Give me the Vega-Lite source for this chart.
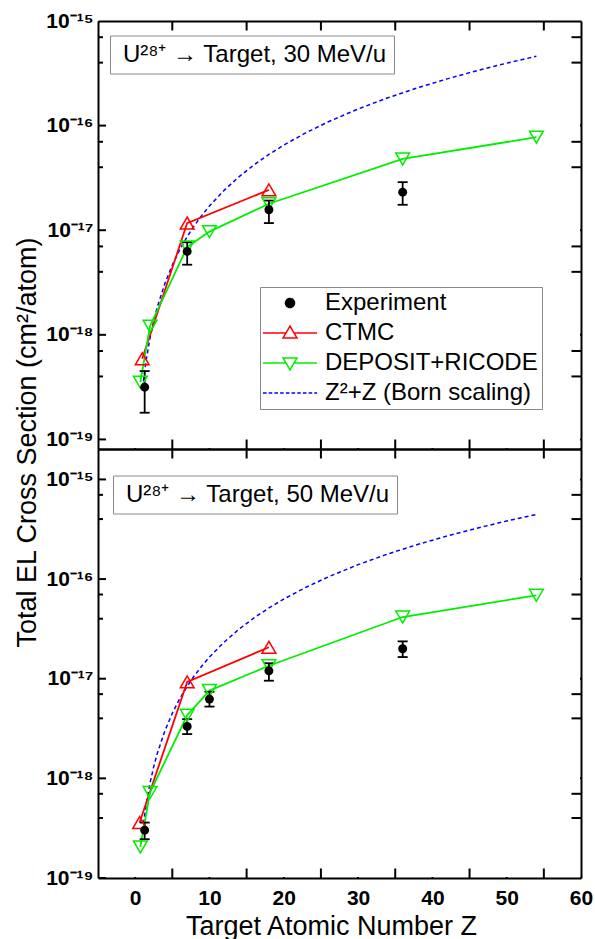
{
  "$schema": "https://vega.github.io/schema/vega-lite/v6.json",
  "background": "white",
  "padding": {"left": 13, "top": 10, "right": 2, "bottom": 0},
  "bounds": "flush",
  "spacing": 0,
  "config": {
    "font": "Liberation Sans",
    "view": {"stroke": null},
    "axis": {"grid": false, "ticks": false, "domainColor": "black", "domainWidth": 2, "labelColor": "black", "titleColor": "black", "labelOverlap": false, "labelBound": false, "labelFlush": false, "titleFontWeight": "normal", "titleLimit": 1000}
  },
  "datasets": {
    "ticks": [
      {"dim": "y", "kind": "major", "v": 1e-19}, {"dim": "y", "kind": "major", "v": 1e-18}, {"dim": "y", "kind": "major", "v": 1e-17}, {"dim": "y", "kind": "major", "v": 1e-16}, {"dim": "y", "kind": "major", "v": 1e-15},
      {"dim": "y", "kind": "minor", "v": 4e-19}, {"dim": "y", "kind": "minor", "v": 7e-19}, {"dim": "y", "kind": "minor", "v": 4e-18}, {"dim": "y", "kind": "minor", "v": 7e-18},
      {"dim": "y", "kind": "minor", "v": 4e-17}, {"dim": "y", "kind": "minor", "v": 7e-17}, {"dim": "y", "kind": "minor", "v": 4e-16}, {"dim": "y", "kind": "minor", "v": 7e-16},
      {"dim": "x", "kind": "major", "v": 0}, {"dim": "x", "kind": "major", "v": 10}, {"dim": "x", "kind": "major", "v": 20}, {"dim": "x", "kind": "major", "v": 30}, {"dim": "x", "kind": "major", "v": 40}, {"dim": "x", "kind": "major", "v": 50}, {"dim": "x", "kind": "major", "v": 60},
      {"dim": "x", "kind": "minor", "v": 5}, {"dim": "x", "kind": "minor", "v": 15}, {"dim": "x", "kind": "minor", "v": 25}, {"dim": "x", "kind": "minor", "v": 35}, {"dim": "x", "kind": "minor", "v": 45}, {"dim": "x", "kind": "minor", "v": 55}
    ],
    "d": [
      {"E": 30, "series": "Experiment", "panel": "U²⁸⁺ → Target, 30 MeV/u", "Z": 1.28, "sigma": 3.16e-19, "lo": 1.8e-19, "hi": 4.5e-19},
      {"E": 30, "series": "Experiment", "panel": "U²⁸⁺ → Target, 30 MeV/u", "Z": 7, "sigma": 6.27e-18, "lo": 4.68e-18, "hi": 7.67e-18},
      {"E": 30, "series": "Experiment", "panel": "U²⁸⁺ → Target, 30 MeV/u", "Z": 18, "sigma": 1.57e-17, "lo": 1.17e-17, "hi": 1.92e-17},
      {"E": 30, "series": "Experiment", "panel": "U²⁸⁺ → Target, 30 MeV/u", "Z": 36, "sigma": 2.31e-17, "lo": 1.75e-17, "hi": 2.88e-17},
      {"E": 30, "series": "CTMC", "Z": 0.95, "sigma": 5.9e-19},
      {"E": 30, "series": "CTMC", "Z": 7, "sigma": 1.17e-17},
      {"E": 30, "series": "CTMC", "Z": 18, "sigma": 2.43e-17},
      {"E": 30, "series": "DEPOSIT+RICODE", "Z": 0.7, "sigma": 3.53e-19},
      {"E": 30, "series": "DEPOSIT+RICODE", "Z": 2, "sigma": 1.21e-18},
      {"E": 30, "series": "DEPOSIT+RICODE", "Z": 7, "sigma": 6.9e-18},
      {"E": 30, "series": "DEPOSIT+RICODE", "Z": 10, "sigma": 9.7e-18},
      {"E": 30, "series": "DEPOSIT+RICODE", "Z": 18, "sigma": 1.79e-17},
      {"E": 30, "series": "DEPOSIT+RICODE", "Z": 36, "sigma": 4.8e-17},
      {"E": 30, "series": "DEPOSIT+RICODE", "Z": 54, "sigma": 7.75e-17},
      {"E": 30, "series": "Z²+Z (Born scaling)", "Z": 1, "sigma": 3.1e-19},
      {"E": 30, "series": "Z²+Z (Born scaling)", "Z": 1.5, "sigma": 5.81e-19},
      {"E": 30, "series": "Z²+Z (Born scaling)", "Z": 2, "sigma": 9.3e-19},
      {"E": 30, "series": "Z²+Z (Born scaling)", "Z": 2.5, "sigma": 1.356e-18},
      {"E": 30, "series": "Z²+Z (Born scaling)", "Z": 3, "sigma": 1.86e-18},
      {"E": 30, "series": "Z²+Z (Born scaling)", "Z": 4, "sigma": 3.1e-18},
      {"E": 30, "series": "Z²+Z (Born scaling)", "Z": 5, "sigma": 4.65e-18},
      {"E": 30, "series": "Z²+Z (Born scaling)", "Z": 6, "sigma": 6.51e-18},
      {"E": 30, "series": "Z²+Z (Born scaling)", "Z": 7, "sigma": 8.68e-18},
      {"E": 30, "series": "Z²+Z (Born scaling)", "Z": 8, "sigma": 1.116e-17},
      {"E": 30, "series": "Z²+Z (Born scaling)", "Z": 9, "sigma": 1.395e-17},
      {"E": 30, "series": "Z²+Z (Born scaling)", "Z": 10, "sigma": 1.705e-17},
      {"E": 30, "series": "Z²+Z (Born scaling)", "Z": 12, "sigma": 2.418e-17},
      {"E": 30, "series": "Z²+Z (Born scaling)", "Z": 14, "sigma": 3.255e-17},
      {"E": 30, "series": "Z²+Z (Born scaling)", "Z": 16, "sigma": 4.216e-17},
      {"E": 30, "series": "Z²+Z (Born scaling)", "Z": 18, "sigma": 5.301e-17},
      {"E": 30, "series": "Z²+Z (Born scaling)", "Z": 20, "sigma": 6.51e-17},
      {"E": 30, "series": "Z²+Z (Born scaling)", "Z": 23, "sigma": 8.556e-17},
      {"E": 30, "series": "Z²+Z (Born scaling)", "Z": 26, "sigma": 1.088e-16},
      {"E": 30, "series": "Z²+Z (Born scaling)", "Z": 30, "sigma": 1.4415e-16},
      {"E": 30, "series": "Z²+Z (Born scaling)", "Z": 34, "sigma": 1.8445e-16},
      {"E": 30, "series": "Z²+Z (Born scaling)", "Z": 38, "sigma": 2.297e-16},
      {"E": 30, "series": "Z²+Z (Born scaling)", "Z": 42, "sigma": 2.799e-16},
      {"E": 30, "series": "Z²+Z (Born scaling)", "Z": 46, "sigma": 3.351e-16},
      {"E": 30, "series": "Z²+Z (Born scaling)", "Z": 50, "sigma": 3.953e-16},
      {"E": 30, "series": "Z²+Z (Born scaling)", "Z": 54, "sigma": 4.604e-16},
      {"E": 50, "series": "Experiment", "panel": "U²⁸⁺ → Target, 50 MeV/u", "Z": 1.28, "sigma": 3.02e-19, "lo": 2.45e-19, "hi": 3.6e-19},
      {"E": 50, "series": "Experiment", "panel": "U²⁸⁺ → Target, 50 MeV/u", "Z": 7, "sigma": 3.32e-18, "lo": 2.78e-18, "hi": 3.93e-18},
      {"E": 50, "series": "Experiment", "panel": "U²⁸⁺ → Target, 50 MeV/u", "Z": 10, "sigma": 6.25e-18, "lo": 5.25e-18, "hi": 7.4e-18},
      {"E": 50, "series": "Experiment", "panel": "U²⁸⁺ → Target, 50 MeV/u", "Z": 18, "sigma": 1.2e-17, "lo": 9.55e-18, "hi": 1.43e-17},
      {"E": 50, "series": "Experiment", "panel": "U²⁸⁺ → Target, 50 MeV/u", "Z": 36, "sigma": 2.0e-17, "lo": 1.65e-17, "hi": 2.37e-17},
      {"E": 50, "series": "CTMC", "Z": 0.6, "sigma": 3.6e-19},
      {"E": 50, "series": "CTMC", "Z": 7, "sigma": 9.3e-18},
      {"E": 50, "series": "CTMC", "Z": 18, "sigma": 2.07e-17},
      {"E": 50, "series": "DEPOSIT+RICODE", "Z": 0.7, "sigma": 2.05e-19},
      {"E": 50, "series": "DEPOSIT+RICODE", "Z": 2, "sigma": 7.2e-19},
      {"E": 50, "series": "DEPOSIT+RICODE", "Z": 7, "sigma": 4.3e-18},
      {"E": 50, "series": "DEPOSIT+RICODE", "Z": 10, "sigma": 7.6e-18},
      {"E": 50, "series": "DEPOSIT+RICODE", "Z": 18, "sigma": 1.35e-17},
      {"E": 50, "series": "DEPOSIT+RICODE", "Z": 36, "sigma": 4.16e-17},
      {"E": 50, "series": "DEPOSIT+RICODE", "Z": 54, "sigma": 6.87e-17},
      {"E": 50, "series": "Z²+Z (Born scaling)", "Z": 1, "sigma": 3.0e-19},
      {"E": 50, "series": "Z²+Z (Born scaling)", "Z": 1.5, "sigma": 5.625e-19},
      {"E": 50, "series": "Z²+Z (Born scaling)", "Z": 2, "sigma": 9.0e-19},
      {"E": 50, "series": "Z²+Z (Born scaling)", "Z": 2.5, "sigma": 1.3125e-18},
      {"E": 50, "series": "Z²+Z (Born scaling)", "Z": 3, "sigma": 1.8e-18},
      {"E": 50, "series": "Z²+Z (Born scaling)", "Z": 4, "sigma": 3.0e-18},
      {"E": 50, "series": "Z²+Z (Born scaling)", "Z": 5, "sigma": 4.5e-18},
      {"E": 50, "series": "Z²+Z (Born scaling)", "Z": 6, "sigma": 6.3e-18},
      {"E": 50, "series": "Z²+Z (Born scaling)", "Z": 7, "sigma": 8.4e-18},
      {"E": 50, "series": "Z²+Z (Born scaling)", "Z": 8, "sigma": 1.08e-17},
      {"E": 50, "series": "Z²+Z (Born scaling)", "Z": 9, "sigma": 1.35e-17},
      {"E": 50, "series": "Z²+Z (Born scaling)", "Z": 10, "sigma": 1.65e-17},
      {"E": 50, "series": "Z²+Z (Born scaling)", "Z": 12, "sigma": 2.34e-17},
      {"E": 50, "series": "Z²+Z (Born scaling)", "Z": 14, "sigma": 3.15e-17},
      {"E": 50, "series": "Z²+Z (Born scaling)", "Z": 16, "sigma": 4.08e-17},
      {"E": 50, "series": "Z²+Z (Born scaling)", "Z": 18, "sigma": 5.13e-17},
      {"E": 50, "series": "Z²+Z (Born scaling)", "Z": 20, "sigma": 6.3e-17},
      {"E": 50, "series": "Z²+Z (Born scaling)", "Z": 23, "sigma": 8.28e-17},
      {"E": 50, "series": "Z²+Z (Born scaling)", "Z": 26, "sigma": 1.053e-16},
      {"E": 50, "series": "Z²+Z (Born scaling)", "Z": 30, "sigma": 1.395e-16},
      {"E": 50, "series": "Z²+Z (Born scaling)", "Z": 34, "sigma": 1.785e-16},
      {"E": 50, "series": "Z²+Z (Born scaling)", "Z": 38, "sigma": 2.223e-16},
      {"E": 50, "series": "Z²+Z (Born scaling)", "Z": 42, "sigma": 2.709e-16},
      {"E": 50, "series": "Z²+Z (Born scaling)", "Z": 46, "sigma": 3.243e-16},
      {"E": 50, "series": "Z²+Z (Born scaling)", "Z": 50, "sigma": 3.825e-16},
      {"E": 50, "series": "Z²+Z (Born scaling)", "Z": 54, "sigma": 4.455e-16}
    ]
  },
  "resolve": {"scale": {"color": "independent", "shape": "independent"}},
  "vconcat": [
    {
      "width": 483,
      "height": 428,
      "layer": [
        {
          "data": {"name": "ticks"},
          "transform": [{"filter": "datum.dim == 'y'"}],
          "mark": {"type": "tick", "orient": "horizontal", "clip": true, "thickness": 2, "color": "black", "opacity": 1},
          "encoding": {
            "y": {"field": "v", "type": "quantitative", "scale": {"type": "log", "domain": [8.1e-20, 1e-15], "nice": false}, "axis": null},
            "x": {"datum": -5, "type": "quantitative", "scale": {"domain": [-5, 60], "nice": false, "zero": false}, "axis": null},
            "size": {"field": "kind", "type": "ordinal", "scale": {"type": "ordinal", "domain": ["major", "minor"], "range": [16, 10]}, "legend": null}
          }
        },
        {
          "data": {"name": "ticks"},
          "transform": [{"filter": "datum.dim == 'y'"}],
          "mark": {"type": "tick", "orient": "horizontal", "clip": true, "thickness": 2, "color": "black", "opacity": 1},
          "encoding": {
            "y": {"field": "v", "type": "quantitative", "scale": {"type": "log", "domain": [8.1e-20, 1e-15], "nice": false}, "axis": null},
            "x": {"datum": 60, "type": "quantitative", "axis": null},
            "size": {"field": "kind", "type": "ordinal", "legend": null}
          }
        },
        {
          "data": {"name": "ticks"},
          "transform": [{"filter": "datum.dim == 'x'"}],
          "mark": {"type": "tick", "orient": "vertical", "clip": true, "thickness": 2, "color": "black", "opacity": 1},
          "encoding": {
            "x": {"field": "v", "type": "quantitative", "axis": null},
            "y": {"datum": 8.1e-20, "type": "quantitative", "axis": null},
            "size": {"field": "kind", "type": "ordinal", "legend": null}
          }
        },
        {
          "data": {"name": "ticks"},
          "transform": [{"filter": "datum.dim == 'x'"}],
          "mark": {"type": "tick", "orient": "vertical", "clip": true, "thickness": 2, "color": "black", "opacity": 1},
          "encoding": {
            "x": {"field": "v", "type": "quantitative", "axis": null},
            "y": {"datum": 1e-15, "type": "quantitative", "axis": null},
            "size": {"field": "kind", "type": "ordinal", "legend": null}
          }
        },
        {
          "data": {"name": "d"},
          "transform": [{"filter": "datum.E == 30 && datum.series == 'Z²+Z (Born scaling)'"}],
          "mark": {"type": "line", "strokeDash": [4, 3], "strokeWidth": 1.5},
          "encoding": {
            "x": {"field": "Z", "type": "quantitative", "scale": {"domain": [-5, 60], "nice": false, "zero": false},
              "axis": {"orient": "bottom", "values": [0, 10, 20, 30, 40, 50, 60], "labels": false, "title": null}},
            "y": {"field": "sigma", "type": "quantitative", "scale": {"type": "log", "domain": [8.1e-20, 1e-15], "nice": false},
              "axis": {"orient": "left", "values": [1e-19, 1e-18, 1e-17, 1e-16, 1e-15],
                "labelFontSize": 21, "labelFontWeight": "bold", "labelPadding": 5,
                "labelExpr": "round(log(datum.value)/LN10) == -15 ? '10⁻¹⁵' : round(log(datum.value)/LN10) == -16 ? '10⁻¹⁶' : round(log(datum.value)/LN10) == -17 ? '10⁻¹⁷' : round(log(datum.value)/LN10) == -18 ? '10⁻¹⁸' : '10⁻¹⁹'",
                "title": "Total EL Cross Section (cm²/atom)", "titleFontSize": 27, "titleX": -63, "titleY": 421, "titleAngle": 270, "titleAlign": "center", "titleBaseline": "alphabetic"}},
            "color": {"field": "series", "type": "nominal",
              "scale": {"domain": ["Experiment", "CTMC", "DEPOSIT+RICODE", "Z²+Z (Born scaling)"], "range": ["#000000", "#ff0000", "#00ee00", "#0000ff"]},
              "legend": {"orient": "none", "legendX": 162, "legendY": 266, "title": null, "padding": 4, "rowPadding": 6,
                "strokeColor": "#888888", "labelFontSize": 24, "labelFont": "Liberation Sans", "labelColor": "black", "labelLimit": 400,
                "symbolSize": 144, "symbolStrokeWidth": 1.5, "symbolOffset": 14, "labelOffset": 23,
                "encode": {"symbols": {"update": {
                  "shape": {"signal": "datum.value == 'Experiment' ? 'M-0.75,0A0.75,0.75,0,1,1,0.75,0A0.75,0.75,0,1,1,-0.75,0Z' : datum.value == 'CTMC' ? 'M-4.5,0H-0.67M0.67,0H4.5M0,-1.15L1.17,0.85L-1.17,0.85Z' : datum.value == 'DEPOSIT+RICODE' ? 'M-4.5,0H-0.67M0.67,0H4.5M0,1.15L1.17,-0.85L-1.17,-0.85Z' : 'M-4.5,0H-3.9M-3.55,0H-2.95M-2.6,0H-2M-1.65,0H-1.05M-0.7,0H-0.1M0.25,0H0.85M1.2,0H1.8M2.15,0H2.75M3.1,0H3.7M4.05,0H4.5'"},
                  "fill": {"signal": "datum.value == 'Experiment' ? '#000000' : 'transparent'"},
                  "fillOpacity": {"signal": "datum.value == 'Experiment' ? 1 : 0"},
                  "stroke": {"signal": "datum.value == 'Experiment' ? '#000000' : datum.value == 'CTMC' ? '#ff0000' : datum.value == 'DEPOSIT+RICODE' ? '#00ee00' : '#0000ff'"},
                  "strokeWidth": {"value": 1.5},
                  "strokeDash": {"value": [1, 0]},
                  "size": {"value": 144},
                  "opacity": {"value": 1}
                }}}}}
          }
        },
        {
          "data": {"name": "d"},
          "transform": [{"filter": "datum.E == 30 && (datum.series == 'CTMC' || datum.series == 'DEPOSIT+RICODE')"}],
          "mark": {"type": "line", "strokeWidth": 1.8},
          "encoding": {
            "x": {"field": "Z", "type": "quantitative", "axis": {"orient": "top", "values": [0, 10, 20, 30, 40, 50, 60], "labels": false, "title": null}},
            "y": {"field": "sigma", "type": "quantitative", "axis": {"orient": "right", "values": [1e-19, 1e-18, 1e-17, 1e-16, 1e-15], "labels": false, "title": null}},
            "color": {"field": "series", "type": "nominal"}
          }
        },
        {
          "data": {"name": "d"},
          "transform": [{"filter": "datum.E == 30 && datum.series == 'Experiment'"}],
          "mark": {"type": "rule", "strokeWidth": 1.8, "color": "black"},
          "encoding": {
            "x": {"field": "Z", "type": "quantitative", "axis": null},
            "y": {"field": "lo", "type": "quantitative", "axis": null},
            "y2": {"field": "hi"}
          }
        },
        {
          "data": {"name": "d"},
          "transform": [{"filter": "datum.E == 30 && datum.series == 'Experiment'"}],
          "mark": {"type": "tick", "orient": "horizontal", "size": 10, "thickness": 1.8, "color": "black", "opacity": 1},
          "encoding": {"x": {"field": "Z", "type": "quantitative", "axis": null}, "y": {"field": "lo", "type": "quantitative", "axis": null}}
        },
        {
          "data": {"name": "d"},
          "transform": [{"filter": "datum.E == 30 && datum.series == 'Experiment'"}],
          "mark": {"type": "tick", "orient": "horizontal", "size": 10, "thickness": 1.8, "color": "black", "opacity": 1},
          "encoding": {"x": {"field": "Z", "type": "quantitative", "axis": null}, "y": {"field": "hi", "type": "quantitative", "axis": null}}
        },
        {
          "data": {"name": "d"},
          "transform": [{"filter": "datum.E == 30 && datum.series == 'CTMC'"}],
          "mark": {"type": "point", "shape": "triangle-up", "filled": false, "size": 190, "strokeWidth": 1.5, "opacity": 1},
          "encoding": {"x": {"field": "Z", "type": "quantitative", "axis": null}, "y": {"field": "sigma", "type": "quantitative", "axis": null}, "color": {"field": "series", "type": "nominal"}}
        },
        {
          "data": {"name": "d"},
          "transform": [{"filter": "datum.E == 30 && datum.series == 'DEPOSIT+RICODE'"}],
          "mark": {"type": "point", "shape": "triangle-down", "filled": false, "size": 190, "strokeWidth": 1.5, "opacity": 1},
          "encoding": {"x": {"field": "Z", "type": "quantitative", "axis": null}, "y": {"field": "sigma", "type": "quantitative", "axis": null}, "color": {"field": "series", "type": "nominal"}}
        },
        {
          "data": {"name": "d"},
          "transform": [{"filter": "datum.E == 30 && datum.series == 'Experiment'"}],
          "mark": {"type": "point", "filled": true, "size": 80, "opacity": 1},
          "encoding": {
            "x": {"field": "Z", "type": "quantitative", "axis": null},
            "y": {"field": "sigma", "type": "quantitative", "axis": null},
            "color": {"field": "series", "type": "nominal"},
            "shape": {"field": "panel", "type": "nominal", "scale": {"range": ["circle"]},
              "legend": {"orient": "none", "legendX": 12, "legendY": 14.5, "title": null, "padding": 7, "strokeColor": "#888888",
                "labelFontSize": 24, "labelFont": "Liberation Sans", "labelColor": "black", "labelLimit": 500,
                "symbolSize": 0, "symbolOpacity": 0, "symbolStrokeWidth": 0, "labelOffset": -18}}
          }
        }
      ],
      "resolve": {"axis": {"x": "independent", "y": "independent"}}
    },
    {
      "width": 483,
      "height": 429,
      "layer": [
        {
          "data": {"name": "ticks"},
          "transform": [{"filter": "datum.dim == 'y'"}],
          "mark": {"type": "tick", "orient": "horizontal", "clip": true, "thickness": 2, "color": "black", "opacity": 1},
          "encoding": {
            "y": {"field": "v", "type": "quantitative", "scale": {"type": "log", "domain": [1e-19, 2.02e-15], "nice": false}, "axis": null},
            "x": {"datum": -5, "type": "quantitative", "scale": {"domain": [-5, 60], "nice": false, "zero": false}, "axis": null},
            "size": {"field": "kind", "type": "ordinal", "scale": {"type": "ordinal", "domain": ["major", "minor"], "range": [16, 10]}, "legend": null}
          }
        },
        {
          "data": {"name": "ticks"},
          "transform": [{"filter": "datum.dim == 'y'"}],
          "mark": {"type": "tick", "orient": "horizontal", "clip": true, "thickness": 2, "color": "black", "opacity": 1},
          "encoding": {
            "y": {"field": "v", "type": "quantitative", "axis": null},
            "x": {"datum": 60, "type": "quantitative", "axis": null},
            "size": {"field": "kind", "type": "ordinal", "legend": null}
          }
        },
        {
          "data": {"name": "ticks"},
          "transform": [{"filter": "datum.dim == 'x'"}],
          "mark": {"type": "tick", "orient": "vertical", "clip": true, "thickness": 2, "color": "black", "opacity": 1},
          "encoding": {
            "x": {"field": "v", "type": "quantitative", "axis": null},
            "y": {"datum": 1e-19, "type": "quantitative", "axis": null},
            "size": {"field": "kind", "type": "ordinal", "legend": null}
          }
        },
        {
          "data": {"name": "ticks"},
          "transform": [{"filter": "datum.dim == 'x'"}],
          "mark": {"type": "tick", "orient": "vertical", "clip": true, "thickness": 2, "color": "black", "opacity": 1},
          "encoding": {
            "x": {"field": "v", "type": "quantitative", "axis": null},
            "y": {"datum": 2.02e-15, "type": "quantitative", "axis": null},
            "size": {"field": "kind", "type": "ordinal", "legend": null}
          }
        },
        {
          "data": {"name": "d"},
          "transform": [{"filter": "datum.E == 50 && datum.series == 'Z²+Z (Born scaling)'"}],
          "mark": {"type": "line", "strokeDash": [4, 3], "strokeWidth": 1.5},
          "encoding": {
            "x": {"field": "Z", "type": "quantitative", "scale": {"domain": [-5, 60], "nice": false, "zero": false},
              "axis": {"orient": "bottom", "values": [0, 10, 20, 30, 40, 50, 60],
                "labelFontSize": 21, "labelFontWeight": "bold", "labelPadding": 9,
                "title": "Target Atomic Number Z", "titleFontSize": 27, "titleX": 233, "titleY": 56, "titleAlign": "center", "titleBaseline": "alphabetic"}},
            "y": {"field": "sigma", "type": "quantitative", "scale": {"type": "log", "domain": [1e-19, 2.02e-15], "nice": false},
              "axis": {"orient": "left", "values": [1e-19, 1e-18, 1e-17, 1e-16, 1e-15],
                "labelFontSize": 21, "labelFontWeight": "bold", "labelPadding": 5,
                "labelExpr": "round(log(datum.value)/LN10) == -15 ? '10⁻¹⁵' : round(log(datum.value)/LN10) == -16 ? '10⁻¹⁶' : round(log(datum.value)/LN10) == -17 ? '10⁻¹⁷' : round(log(datum.value)/LN10) == -18 ? '10⁻¹⁸' : '10⁻¹⁹'",
                "title": null}},
            "color": {"field": "series", "type": "nominal",
              "scale": {"domain": ["Experiment", "CTMC", "DEPOSIT+RICODE", "Z²+Z (Born scaling)"], "range": ["#000000", "#ff0000", "#00ee00", "#0000ff"]},
              "legend": null}
          }
        },
        {
          "data": {"name": "d"},
          "transform": [{"filter": "datum.E == 50 && (datum.series == 'CTMC' || datum.series == 'DEPOSIT+RICODE')"}],
          "mark": {"type": "line", "strokeWidth": 1.8},
          "encoding": {
            "x": {"field": "Z", "type": "quantitative", "axis": {"orient": "top", "values": [0, 10, 20, 30, 40, 50, 60], "labels": false, "title": null}},
            "y": {"field": "sigma", "type": "quantitative", "axis": {"orient": "right", "values": [1e-19, 1e-18, 1e-17, 1e-16, 1e-15], "labels": false, "title": null}},
            "color": {"field": "series", "type": "nominal", "legend": null}
          }
        },
        {
          "data": {"name": "d"},
          "transform": [{"filter": "datum.E == 50 && datum.series == 'Experiment'"}],
          "mark": {"type": "rule", "strokeWidth": 1.8, "color": "black"},
          "encoding": {
            "x": {"field": "Z", "type": "quantitative", "axis": null},
            "y": {"field": "lo", "type": "quantitative", "axis": null},
            "y2": {"field": "hi"}
          }
        },
        {
          "data": {"name": "d"},
          "transform": [{"filter": "datum.E == 50 && datum.series == 'Experiment'"}],
          "mark": {"type": "tick", "orient": "horizontal", "size": 10, "thickness": 1.8, "color": "black", "opacity": 1},
          "encoding": {"x": {"field": "Z", "type": "quantitative", "axis": null}, "y": {"field": "lo", "type": "quantitative", "axis": null}}
        },
        {
          "data": {"name": "d"},
          "transform": [{"filter": "datum.E == 50 && datum.series == 'Experiment'"}],
          "mark": {"type": "tick", "orient": "horizontal", "size": 10, "thickness": 1.8, "color": "black", "opacity": 1},
          "encoding": {"x": {"field": "Z", "type": "quantitative", "axis": null}, "y": {"field": "hi", "type": "quantitative", "axis": null}}
        },
        {
          "data": {"name": "d"},
          "transform": [{"filter": "datum.E == 50 && datum.series == 'CTMC'"}],
          "mark": {"type": "point", "shape": "triangle-up", "filled": false, "size": 190, "strokeWidth": 1.5, "opacity": 1},
          "encoding": {"x": {"field": "Z", "type": "quantitative", "axis": null}, "y": {"field": "sigma", "type": "quantitative", "axis": null}, "color": {"field": "series", "type": "nominal", "legend": null}}
        },
        {
          "data": {"name": "d"},
          "transform": [{"filter": "datum.E == 50 && datum.series == 'DEPOSIT+RICODE'"}],
          "mark": {"type": "point", "shape": "triangle-down", "filled": false, "size": 190, "strokeWidth": 1.5, "opacity": 1},
          "encoding": {"x": {"field": "Z", "type": "quantitative", "axis": null}, "y": {"field": "sigma", "type": "quantitative", "axis": null}, "color": {"field": "series", "type": "nominal", "legend": null}}
        },
        {
          "data": {"name": "d"},
          "transform": [{"filter": "datum.E == 50 && datum.series == 'Experiment'"}],
          "mark": {"type": "point", "filled": true, "size": 80, "opacity": 1},
          "encoding": {
            "x": {"field": "Z", "type": "quantitative", "axis": null},
            "y": {"field": "sigma", "type": "quantitative", "axis": null},
            "color": {"field": "series", "type": "nominal", "legend": null},
            "shape": {"field": "panel", "type": "nominal", "scale": {"range": ["circle"]},
              "legend": {"orient": "none", "legendX": 15, "legendY": 26.5, "title": null, "padding": 7, "strokeColor": "#888888",
                "labelFontSize": 24, "labelFont": "Liberation Sans", "labelColor": "black", "labelLimit": 500,
                "symbolSize": 0, "symbolOpacity": 0, "symbolStrokeWidth": 0, "labelOffset": -18}}
          }
        }
      ],
      "resolve": {"axis": {"x": "independent", "y": "independent"}}
    }
  ]
}
